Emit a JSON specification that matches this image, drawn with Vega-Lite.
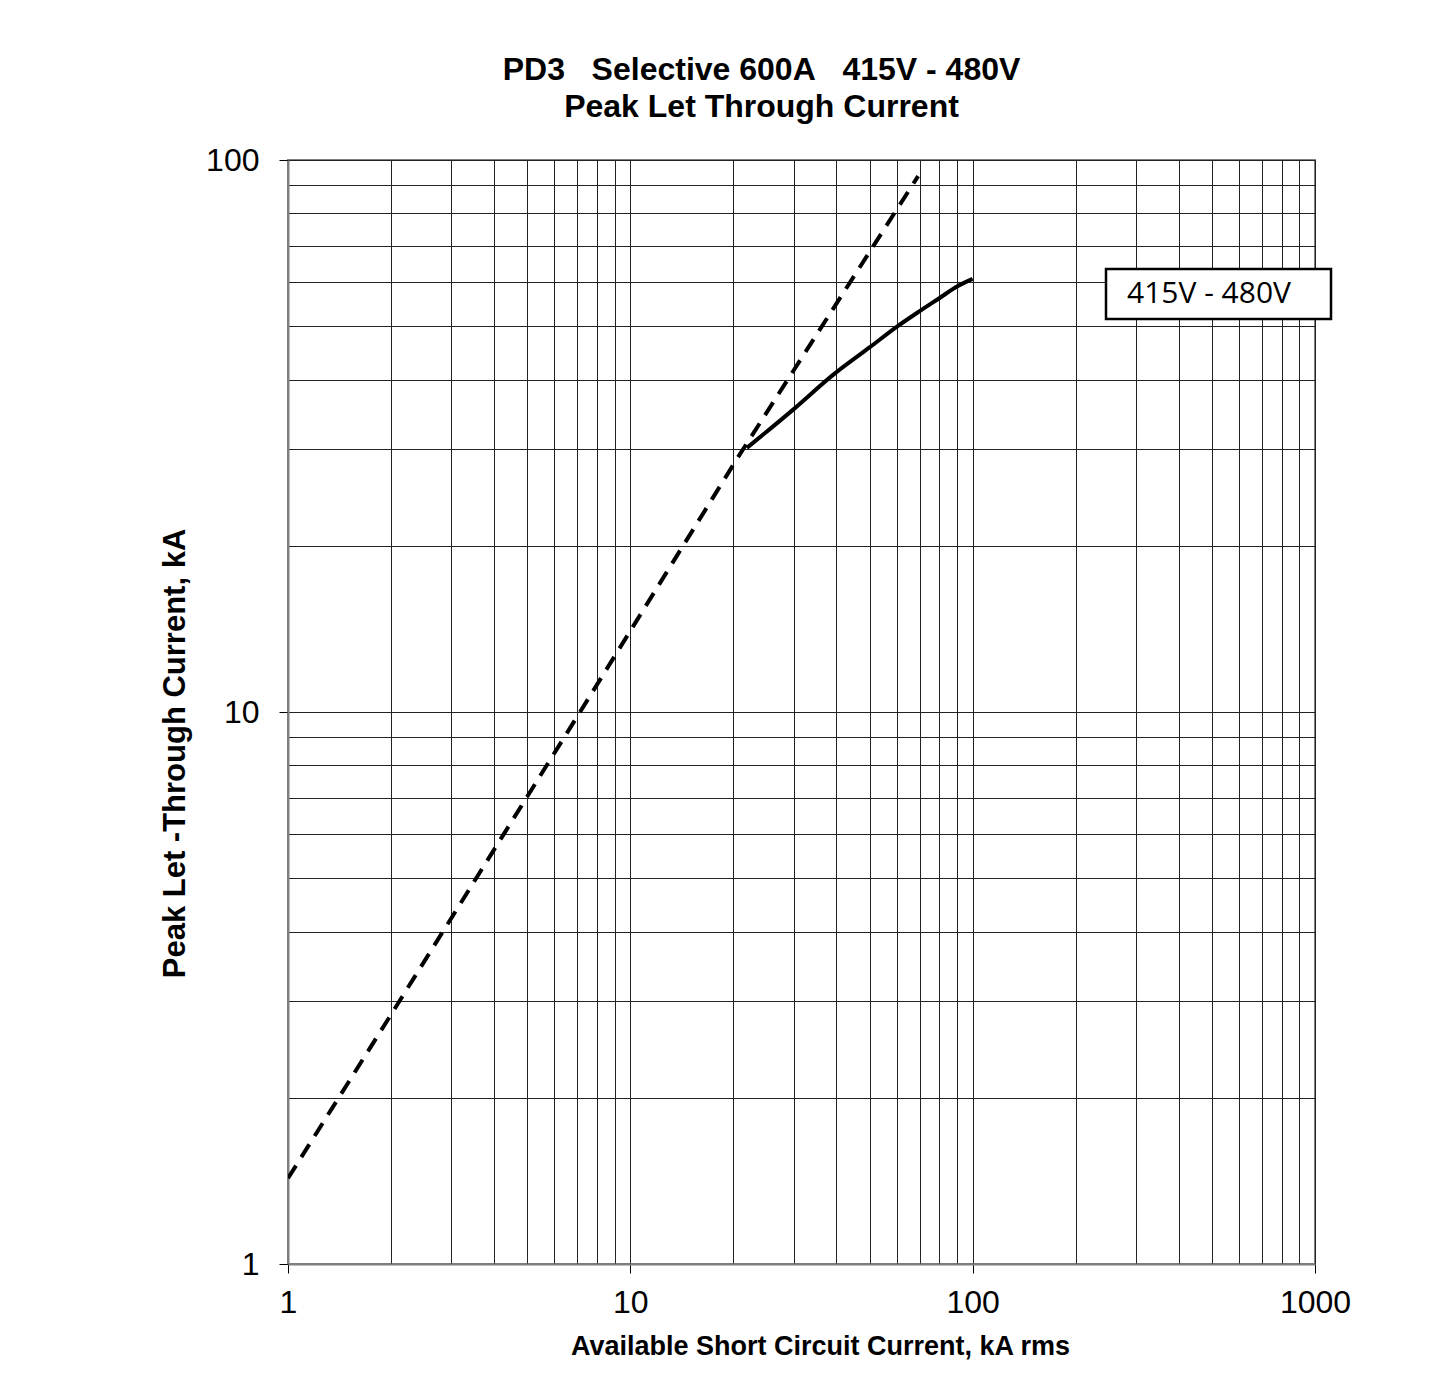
{
  "$schema": "https://vega.github.io/schema/vega-lite/v6.json",
  "autosize": "none",
  "width": 1027,
  "height": 1104,
  "padding": {"left": 288, "top": 160, "right": 122, "bottom": 126},
  "background": "white",
  "title": {
    "text": ["PD3\u00a0\u00a0 Selective 600A\u00a0\u00a0 415V - 480V", "Peak Let Through Current"],
    "font": "Liberation Sans",
    "fontSize": 32,
    "fontWeight": "bold",
    "lineHeight": 37,
    "color": "black",
    "anchor": "middle",
    "frame": "group",
    "dx": -40,
    "offset": 20
  },
  "config": {
    "view": {"stroke": "#7f7f7f", "strokeWidth": 2},
    "legend": {"strokeWidth": 2.5}
  },
  "datasets": {
    "dashed": [
      {"x": 1, "y": 1.43},
      {"x": 2, "y": 2.83},
      {"x": 7.13, "y": 10},
      {"x": 20.6, "y": 28.9},
      {"x": 69.3, "y": 93.5}
    ],
    "solid": [
      {"series": "415V - 480V", "x": 21.9, "y": 30.1},
      {"series": "415V - 480V", "x": 29.9, "y": 35.3},
      {"series": "415V - 480V", "x": 39.1, "y": 40.8},
      {"series": "415V - 480V", "x": 50.1, "y": 45.8},
      {"series": "415V - 480V", "x": 60.1, "y": 49.9},
      {"series": "415V - 480V", "x": 70.2, "y": 53.3},
      {"series": "415V - 480V", "x": 80.3, "y": 56.3},
      {"series": "415V - 480V", "x": 90, "y": 59.0},
      {"series": "415V - 480V", "x": 100, "y": 60.9}
    ]
  },
  "encoding": {
    "x": {
      "field": "x",
      "type": "quantitative",
      "scale": {"type": "log", "domain": [1, 1000], "nice": false},
      "axis": {
        "title": "Available Short Circuit Current, kA rms",
        "titleX": 532,
        "values": [1, 2, 3, 4, 5, 6, 7, 8, 9, 10, 20, 30, 40, 50, 60, 70, 80, 90, 100, 200, 300, 400, 500, 600, 700, 800, 900, 1000],
        "format": "d",
        "labelExpr": "indexof([1,10,100,1000], datum.value) >= 0 ? datum.label : ''",
        "labelOverlap": false,
        "labelFlush": false,
        "grid": true,
        "gridColor": "#222222",
        "gridWidth": 1,
        "gridOpacity": 1,
        "tickSize": 9,
        "tickColor": "black",
        "tickOpacity": {"condition": {"test": "indexof([1,10,100,1000], datum.value) >= 0", "value": 1}, "value": 0},
        "labelFont": "Liberation Sans",
        "labelFontSize": 32,
        "labelColor": "black",
        "labelPadding": 14,
        "titleFont": "Liberation Sans",
        "titleFontSize": 27,
        "titleFontWeight": "bold",
        "titleColor": "black",
        "titlePadding": 15,
        "domainColor": "#7f7f7f",
        "domainWidth": 2
      }
    },
    "y": {
      "field": "y",
      "type": "quantitative",
      "scale": {"type": "log", "domain": [1, 100], "nice": false},
      "axis": {
        "title": "Peak Let -Through Current, kA",
        "titleY": 593,
        "values": [1, 2, 3, 4, 5, 6, 7, 8, 9, 10, 20, 30, 40, 50, 60, 70, 80, 90, 100],
        "format": "d",
        "labelExpr": "indexof([1,10,100], datum.value) >= 0 ? datum.label : ''",
        "labelOverlap": false,
        "labelFlush": false,
        "grid": true,
        "gridColor": "#222222",
        "gridWidth": 1,
        "gridOpacity": 1,
        "tickSize": 9,
        "tickColor": "black",
        "tickOpacity": {"condition": {"test": "indexof([1,10,100], datum.value) >= 0", "value": 1}, "value": 0},
        "labelFont": "Liberation Sans",
        "labelFontSize": 32,
        "labelColor": "black",
        "labelPadding": 20,
        "titleFont": "Liberation Sans",
        "titleFontSize": 31,
        "titleFontWeight": "bold",
        "titleColor": "black",
        "titlePadding": 14,
        "domainColor": "#7f7f7f",
        "domainWidth": 2
      }
    }
  },
  "layer": [
    {
      "data": {"name": "dashed"},
      "mark": {"type": "line", "color": "black", "strokeWidth": 4, "strokeDash": [15, 10], "clip": true}
    },
    {
      "data": {"name": "solid"},
      "mark": {"type": "line", "strokeWidth": 4, "interpolate": "monotone"},
      "encoding": {
        "color": {
          "field": "series",
          "type": "nominal",
          "scale": {"range": ["black"]},
          "legend": {
            "title": null,
            "orient": "none",
            "legendX": 818,
            "legendY": 109,
            "strokeColor": "black",
            "fillColor": "white",
            "padding": 10,
            "symbolType": "circle",
            "symbolSize": 1,
            "symbolOpacity": 0,
            "symbolStrokeWidth": 0,
            "labelOffset": -19,
            "labelFont": "Open Sans",
            "labelFontSize": 30,
            "labelColor": "black",
            "labelLimit": 400,
            "labelExpr": "datum.label + '\u00a0\u2800'"
          }
        }
      }
    }
  ]
}
